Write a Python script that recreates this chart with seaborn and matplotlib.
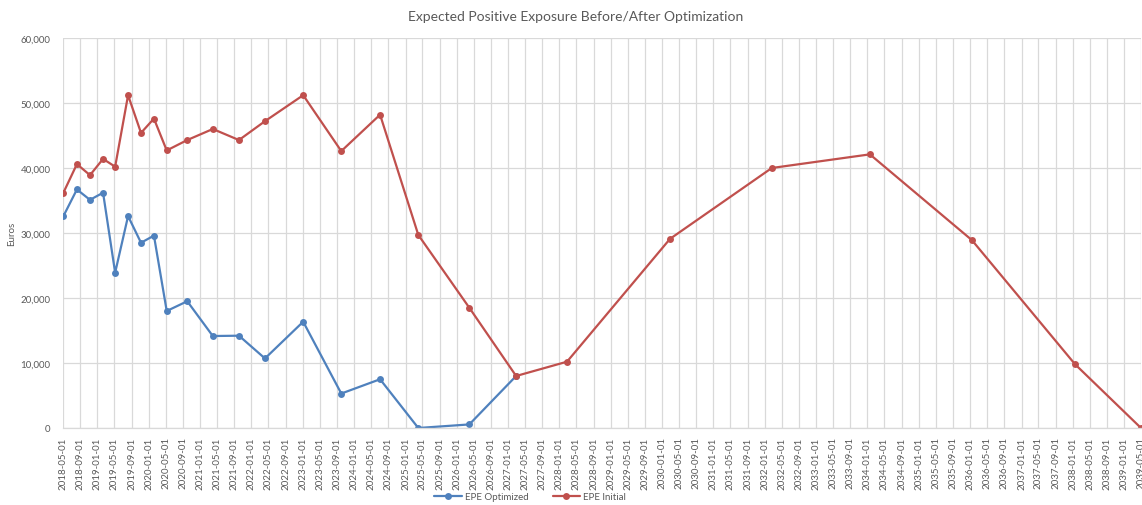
import pandas as pd
import seaborn as sns
import matplotlib.pyplot as plt
import matplotlib.dates as mdates
from matplotlib.ticker import FuncFormatter

# Data
dates = ['2018-05-04', '2018-08-08', '2018-11-09', '2019-02-10', '2019-05-07',
         '2019-08-07', '2019-11-07', '2020-02-07', '2020-05-08', '2020-10-01',
         '2021-04-01', '2021-10-04', '2022-04-07', '2023-01-04', '2023-10-02',
         '2024-07-04', '2025-04-02', '2026-03-31', '2027-02-27', '2028-02-24',
         '2030-02-26', '2032-02-20', '2034-01-18', '2036-01-14', '2038-01-17',
         '2039-05-01']

epe_optimized = [32600, 36700, 35100, 36200, 23900, 32600, 28500, 29600, 18000,
                 19500, 14150, 14200, 10700, 16350, 5300, 7500, 0, 550, 8000]

epe_initial = [36200, 40600, 38900, 41400, 40200, 51200, 45400, 47600, 42700,
               44300, 46000, 44300, 47200, 51200, 42600, 48200, 29700, 18500,
               8000, 10200, 29100, 40000, 42100, 28900, 9800, 0]

series_names = ['EPE Optimized', 'EPE Initial']
colors = ['#4F81BD', '#C0504D']

df_opt = pd.DataFrame({'date': pd.to_datetime(dates[:len(epe_optimized)]),
                       'value': epe_optimized, 'series': series_names[0]})
df_ini = pd.DataFrame({'date': pd.to_datetime(dates), 'value': epe_initial,
                       'series': series_names[1]})
df = pd.concat([df_opt, df_ini], ignore_index=True)

sns.set_theme(style='whitegrid')
plt.rcParams['font.family'] = ['Lato', 'DejaVu Sans']
text_color = '#595959'

fig = plt.figure(figsize=(11.42, 5.06), dpi=100)
ax = fig.add_axes([63 / 1142, 1 - 429 / 506, (1141 - 63) / 1142, (429 - 39) / 506])

sns.lineplot(data=df, x='date', y='value', hue='series', hue_order=series_names,
             palette=colors, marker='o', markersize=5, markeredgewidth=0,
             linewidth=1.6, ax=ax, legend=False)

# axes
ax.set_xlim(pd.Timestamp('2018-05-01'), pd.Timestamp('2039-05-01'))
ax.set_ylim(0, 60000)
ax.set_yticks(range(0, 60001, 10000))
ax.yaxis.set_major_formatter(FuncFormatter(lambda v, p: f'{int(v):,}'))
ax.xaxis.set_major_locator(mdates.MonthLocator(bymonth=[1, 5, 9], bymonthday=1))
ax.xaxis.set_major_formatter(mdates.DateFormatter('%Y-%m-%d'))
ax.tick_params(axis='x', labelrotation=90, labelsize=7, colors=text_color, length=0, pad=6)
ax.tick_params(axis='y', labelsize=7, colors=text_color, length=0, pad=9)
ax.grid(True, color='#d9d9d9', linewidth=0.9)
for s in ['top', 'right', 'left']:
    ax.spines[s].set_visible(False)
ax.spines['bottom'].set_color('#d9d9d9')
ax.spines['bottom'].set_linewidth(0.9)

ax.set_xlabel('')
ax.set_ylabel('Euros', fontsize=7, color=text_color)
ax.yaxis.set_label_coords(-0.0436, 0.5)

fig.text(576 / 1142, 1 - 17 / 506, 'Expected Positive Exposure Before/After Optimization',
         ha='center', va='center', fontsize=10, color=text_color)

handles = [plt.Line2D([], [], color=c, marker='o', markersize=5, markeredgewidth=0,
                      linewidth=1.6) for c in colors]
fig.legend(handles, series_names, loc='center', bbox_to_anchor=(530 / 1142, 1 - 498 / 506),
           ncol=2, frameon=False, fontsize=7, labelcolor=text_color,
           handlelength=2.8, columnspacing=2.5, handletextpad=0.3)

fig.savefig('out.png', dpi=100)
